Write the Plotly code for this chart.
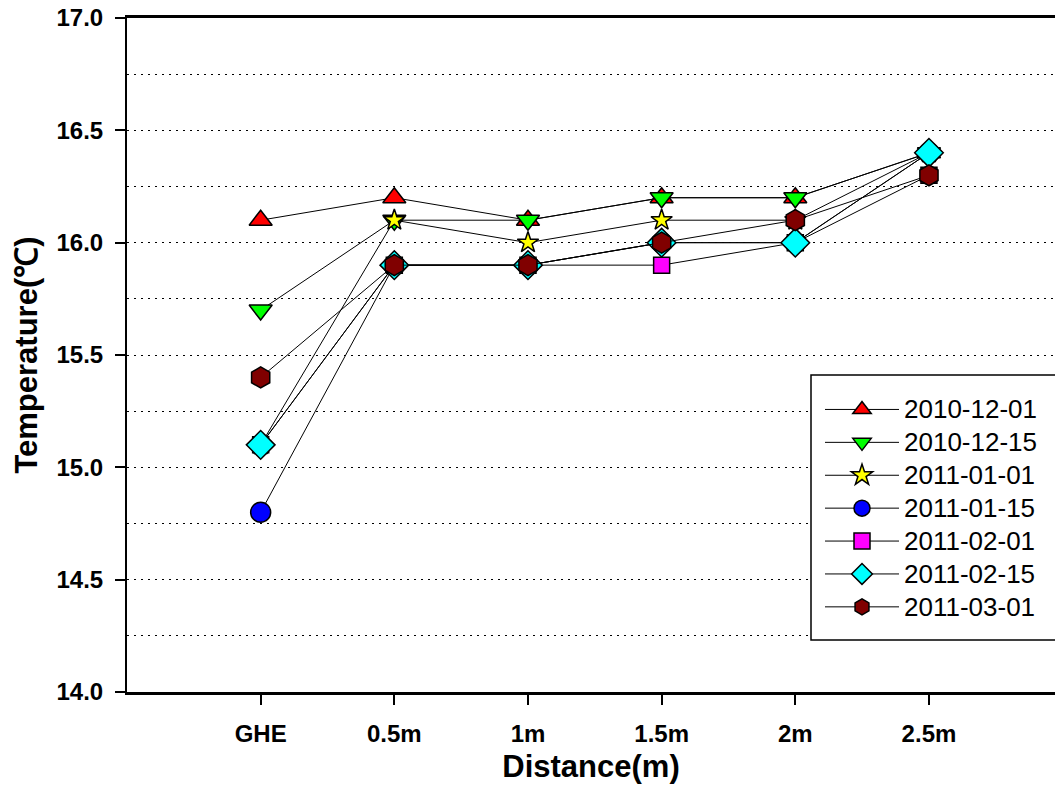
import plotly.graph_objects as go

# Distance categories along the x axis
distances = ["GHE", "0.5m", "1m", "1.5m", "2m", "2.5m"]

# Measured temperatures (°C) for each survey date
dates = ["2010-12-01", "2010-12-15", "2011-01-01", "2011-01-15",
         "2011-02-01", "2011-02-15", "2011-03-01"]
t_2010_12_01 = [16.1, 16.2, 16.1, 16.2, 16.2, 16.4]
t_2010_12_15 = [15.7, 16.1, 16.1, 16.2, 16.2, 16.4]
t_2011_01_01 = [15.1, 16.1, 16.0, 16.1, 16.1, 16.4]
t_2011_01_15 = [14.8, 15.9, 15.9, 16.0, 16.0, 16.4]
t_2011_02_01 = [15.1, 15.9, 15.9, 15.9, 16.0, 16.3]
t_2011_02_15 = [15.1, 15.9, 15.9, 16.0, 16.0, 16.4]
t_2011_03_01 = [15.4, 15.9, 15.9, 16.0, 16.1, 16.3]

series = [t_2010_12_01, t_2010_12_15, t_2011_01_01, t_2011_01_15,
          t_2011_02_01, t_2011_02_15, t_2011_03_01]

symbols = ["triangle-up", "triangle-down", "star", "circle",
           "square", "diamond", "hexagon"]
colors = ["#FF0000", "#00FF00", "#FFFF00", "#0000FF",
          "#FF00FF", "#00FFFF", "#800000"]
sizes = [20, 20, 16, 20, 16, 22, 21]

FONT = "Liberation Sans, Arial, sans-serif"
x_idx = list(range(len(distances)))

fig = go.Figure()
for name, vals, sym, col, sz in zip(dates, series, symbols, colors, sizes):
    fig.add_trace(go.Scatter(
        x=x_idx, y=vals, mode="lines+markers",
        name=f'<span style="font-size:26px">{name}</span>',
        line=dict(color="black", width=1),
        marker=dict(symbol=sym, color=col, size=sz,
                    line=dict(color="black", width=1.5)),
    ))

# Framed box behind the legend entries
fig.add_shape(type="rect", xref="paper", yref="paper",
              x0=(811 - 127) / 928, x1=1.02, y0=(692 - 640) / 674, y1=(692 - 375) / 674,
              line=dict(color="black", width=1.5), fillcolor="white", layer="above")

fig.update_layout(
    width=1055, height=791,
    margin=dict(l=127, r=0, t=18, b=99),
    paper_bgcolor="white", plot_bgcolor="white",
    font=dict(family=FONT, color="black"),
    showlegend=True,
    legend=dict(
        x=(820 - 127) / 928, y=(692 - 388) / 674, xanchor="left", yanchor="top",
        bgcolor="rgba(0,0,0,0)", borderwidth=0,
        font=dict(size=23, family=FONT, color="black"),
        itemwidth=74,
    ),
    xaxis=dict(
        range=[-1.0, 5.943],
        tickvals=x_idx, ticktext=distances,
        tickfont=dict(size=24, family=FONT, weight="bold"),
        ticks="outside", ticklen=10, tickwidth=1.5, tickcolor="black",
        ticklabelstandoff=8,
        showline=True, linecolor="black", linewidth=3, mirror=True,
        showgrid=False, zeroline=False,
        title=dict(text="<b>Distance(m)</b>", font=dict(size=31, family=FONT),
                   standoff=10),
    ),
    yaxis=dict(
        range=[14.0, 17.0],
        tickvals=[14.0, 14.5, 15.0, 15.5, 16.0, 16.5, 17.0],
        tickformat=".1f",
        tickfont=dict(size=24, family=FONT, weight="bold"),
        ticks="outside", ticklen=10, tickwidth=1.5, tickcolor="black",
        ticklabelstandoff=7,
        showline=True, linecolor="black", linewidth=2, mirror=False,
        showgrid=False, zeroline=False,
        minor=dict(dtick=0.25, showgrid=True, gridcolor="black",
                   gridwidth=1, griddash="1.5px,5.5px", ticks=""),
        title=dict(text="<b>Temperature(℃)</b>", font=dict(size=31, family=FONT),
                   standoff=10),
    ),
)

fig.write_html("out.html")
